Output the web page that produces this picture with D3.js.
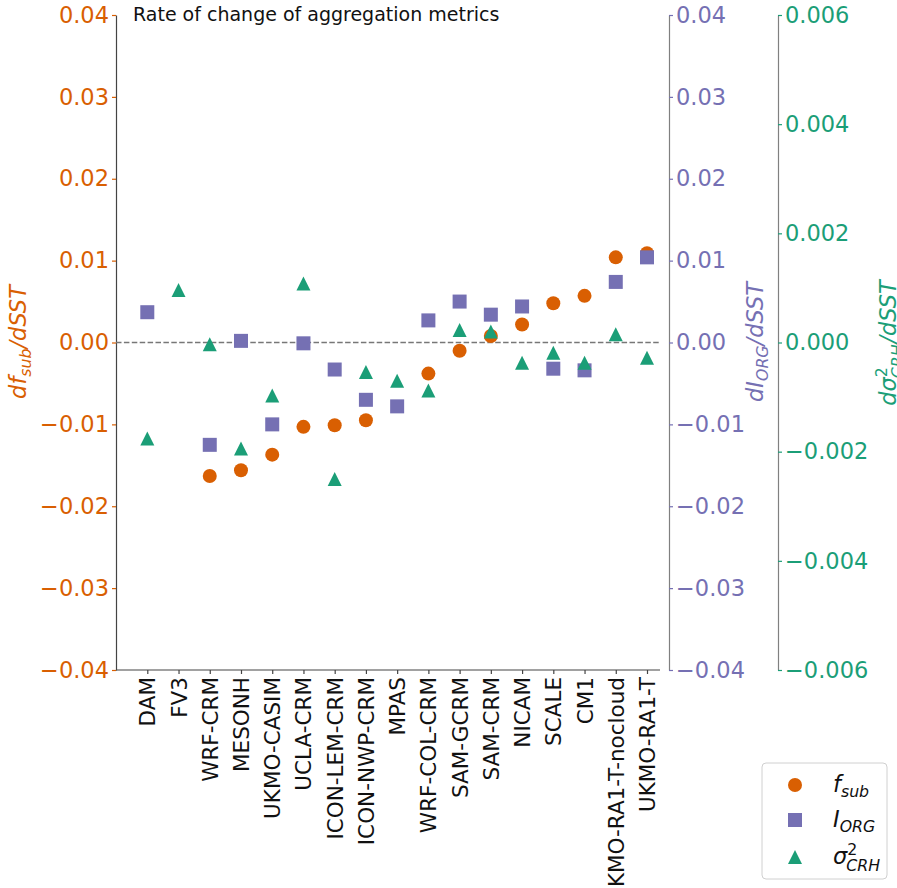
<!DOCTYPE html>
<html>
<head>
<meta charset="utf-8">
<script src="https://cdn.jsdelivr.net/npm/d3@7"></script>
<style>
  html, body { margin: 0; padding: 0; background: #fff; }
  svg { display: block; }
  text { font-family: 'DejaVu Sans', sans-serif; }
</style>
</head>
<body>
<div id="chart"></div>
<script>
(function () {
  'use strict';

  // ---- data ----
  const MODELS = [
    'DAM', 'FV3', 'WRF-CRM', 'MESONH', 'UKMO-CASIM', 'UCLA-CRM',
    'ICON-LEM-CRM', 'ICON-NWP-CRM', 'MPAS', 'WRF-COL-CRM', 'SAM-GCRM',
    'SAM-CRM', 'NICAM', 'SCALE', 'CM1', 'UKMO-RA1-T-nocloud', 'UKMO-RA1-T'
  ];
  // d f_sub / dSST  (left axis)
  const FSUB = [null, null, -0.0163, -0.0156, -0.0137, -0.0103, -0.0101, -0.0095,
    null, -0.0038, -0.0010, 0.0008, 0.0022, 0.0048, 0.0057, 0.0104, 0.0109];
  // d I_ORG / dSST  (first right axis)
  const IORG = [0.0037, null, -0.0125, 0.0002, -0.0100, -0.0001, -0.0033, -0.0070,
    -0.0078, 0.0027, 0.0050, 0.0034, 0.0044, -0.0032, -0.0034, 0.0074, 0.0104];
  // d sigma^2_CRH / dSST  (second right axis)
  const CRH = [-0.00176, 0.00096, -0.00003, -0.00194, -0.00097, 0.00108, -0.0025,
    -0.00054, -0.0007, -0.00088, 0.00023, 0.0002, -0.00037, -0.00019, -0.00037,
    0.00015, -0.00028];

  const TICKS_F = [-0.04, -0.03, -0.02, -0.01, 0, 0.01, 0.02, 0.03, 0.04];
  const TICKS_I = [-0.04, -0.03, -0.02, -0.01, 0, 0.01, 0.02, 0.03, 0.04];
  const TICKS_C = [-0.006, -0.004, -0.002, 0, 0.002, 0.004, 0.006];

  const ORANGE = '#d95f02';
  const PURPLE = '#7570b3';
  const GREEN  = '#1b9e77';

  const W = 897, H = 888;
  const FS = 22.5;

  const plot = { left: 116, right: 660, top: 15, bottom: 670 };

  const svg = d3.select('#chart').append('svg')
    .attr('width', W).attr('height', H);

  // category positions
  const x = d3.scaleLinear().domain([0, MODELS.length - 1]).range([147.3, 647]);
  const yF = d3.scaleLinear().domain([-0.04, 0.04]).range([plot.bottom, plot.top]);
  const yI = d3.scaleLinear().domain([-0.04, 0.04]).range([plot.bottom, plot.top]);
  const yC = d3.scaleLinear().domain([-0.006, 0.006]).range([plot.bottom, plot.top]);

  function styleAxis(g, spine, tickCol, textCol) {
    g.select('.domain').attr('stroke', spine).attr('stroke-width', 1.2);
    g.selectAll('.tick line').attr('stroke', tickCol).attr('stroke-width', 1.2);
    g.selectAll('.tick text')
      .attr('fill', textCol)
      .style('font-family', "'DejaVu Sans', sans-serif")
      .style('font-size', FS + 'px');
  }

  // left axis
  const gL = svg.append('g')
    .attr('transform', `translate(${plot.left},0)`)
    .call(d3.axisLeft(yF).tickValues(TICKS_F).tickFormat(d3.format('.2f'))
      .tickSize(4).tickSizeOuter(0).tickPadding(3));
  styleAxis(gL, '#444', ORANGE, ORANGE);

  // purple right axis (offset outward)
  const gI = svg.append('g')
    .attr('transform', `translate(669,0)`)
    .call(d3.axisRight(yI).tickValues(TICKS_I).tickFormat(d3.format('.2f'))
      .tickSize(4).tickSizeOuter(0).tickPadding(3));
  styleAxis(gI, '#808080', PURPLE, PURPLE);

  // green right axis
  const gC = svg.append('g')
    .attr('transform', `translate(778,0)`)
    .call(d3.axisRight(yC).tickValues(TICKS_C).tickFormat(d3.format('.3f'))
      .tickSize(4).tickSizeOuter(0).tickPadding(3));
  styleAxis(gC, '#808080', GREEN, GREEN);

  // bottom axis with rotated model names
  const gB = svg.append('g')
    .attr('transform', `translate(0,${plot.bottom})`)
    .call(d3.axisBottom(x).tickValues(d3.range(MODELS.length))
      .tickFormat(i => MODELS[i]).tickSize(4).tickSizeOuter(0));
  gB.select('.domain').attr('d', `M${plot.left},0H${plot.right}`)
    .attr('stroke', '#444').attr('stroke-width', 1.2);
  gB.selectAll('.tick line').attr('stroke', '#444').attr('stroke-width', 1.2);
  gB.selectAll('.tick text')
    .attr('fill', '#111')
    .style('font-family', "'DejaVu Sans', sans-serif")
    .style('font-size', '21.5px')
    .attr('transform', 'rotate(-90)')
    .attr('x', -7).attr('y', 0).attr('dy', '0.35em')
    .attr('text-anchor', 'end');

  // zero reference line
  svg.append('line')
    .attr('x1', plot.left).attr('x2', plot.right)
    .attr('y1', yF(0)).attr('y2', yF(0))
    .attr('stroke', '#777').attr('stroke-width', 1.5)
    .attr('stroke-dasharray', '5.5,2.4');

  // title
  svg.append('text')
    .attr('x', 133).attr('y', 21)
    .attr('fill', '#111')
    .style('font-size', '19px')
    .text('Rate of change of aggregation metrics');

  // ---- markers ----
  function triPath(s) {
    // upright triangle of width s, height s, centred on bbox
    const h = s / 2;
    return `M0,${-h}L${h},${h}L${-h},${h}Z`;
  }

  const idx = d3.range(MODELS.length);

  svg.append('g').selectAll('circle')
    .data(idx.filter(i => FSUB[i] != null))
    .join('circle')
    .attr('cx', i => x(i)).attr('cy', i => yF(FSUB[i]))
    .attr('r', 7).attr('fill', ORANGE);

  svg.append('g').selectAll('rect')
    .data(idx.filter(i => IORG[i] != null))
    .join('rect')
    .attr('x', i => x(i) - 7).attr('y', i => yI(IORG[i]) - 7)
    .attr('width', 14).attr('height', 14).attr('fill', PURPLE);

  svg.append('g').selectAll('path')
    .data(idx.filter(i => CRH[i] != null))
    .join('path')
    .attr('transform', i => `translate(${x(i)},${yC(CRH[i])})`)
    .attr('d', triPath(14)).attr('fill', GREEN);

  // ---- math-style labels (italic, with sub/superscripts) ----
  function mathText(g, parts, size, color) {
    let cx = 0;
    parts.forEach(p => {
      const t = g.append('text').attr('x', cx).attr('y', 0)
        .attr('fill', color).style('font-style', 'italic')
        .style('font-size', size + 'px').text(p.t);
      cx += t.node().getComputedTextLength();
      let adv = 0;
      if (p.sup) {
        const s = g.append('text').attr('x', cx).attr('y', -0.42 * size)
          .attr('fill', color).style('font-style', 'normal')
          .style('font-size', size * 0.7 + 'px').text(p.sup);
        adv = Math.max(adv, s.node().getComputedTextLength());
      }
      if (p.sub) {
        const s = g.append('text').attr('x', cx + (p.sup ? -1 : 0))
          .attr('y', (p.sup ? 0.32 : 0.22) * size)
          .attr('fill', color).style('font-style', 'italic')
          .style('font-size', size * 0.7 + 'px').text(p.sub);
        adv = Math.max(adv, s.node().getComputedTextLength());
      }
      cx += adv;
    });
    return cx;
  }

  function rotatedLabel(xb, yc, parts, color) {
    const outer = svg.append('g')
      .attr('transform', `translate(${xb},${yc}) rotate(-90)`);
    const inner = outer.append('g');
    const w = mathText(inner, parts, FS, color);
    inner.attr('transform', `translate(${-w / 2},0)`);
  }

  rotatedLabel(26, 342, [{ t: 'df', sub: 'sub' }, { t: '/dSST' }], ORANGE);
  rotatedLabel(763, 342, [{ t: 'dI', sub: 'ORG' }, { t: '/dSST' }], PURPLE);
  rotatedLabel(896, 343, [{ t: 'dσ', sup: '2', sub: 'CRH' }, { t: '/dSST' }], GREEN);

  // ---- legend ----
  const lg = svg.append('g');
  lg.append('rect')
    .attr('x', 762).attr('y', 763).attr('width', 125).attr('height', 116)
    .attr('rx', 4).attr('fill', '#fff').attr('fill-opacity', 0.8)
    .attr('stroke', '#d0d0d0').attr('stroke-width', 1);

  const LEGEND = [
    { y: 785, kind: 'circle', color: ORANGE, parts: [{ t: 'f', sub: 'sub' }] },
    { y: 820, kind: 'square', color: PURPLE, parts: [{ t: 'I', sub: 'ORG' }] },
    { y: 857, kind: 'tri',    color: GREEN,  parts: [{ t: 'σ', sup: '2', sub: 'CRH' }] }
  ];
  LEGEND.forEach(d => {
    if (d.kind === 'circle') {
      lg.append('circle').attr('cx', 795).attr('cy', d.y).attr('r', 7).attr('fill', d.color);
    } else if (d.kind === 'square') {
      lg.append('rect').attr('x', 788).attr('y', d.y - 7).attr('width', 14).attr('height', 14)
        .attr('fill', d.color);
    } else {
      lg.append('path').attr('transform', `translate(795,${d.y})`)
        .attr('d', triPath(14)).attr('fill', d.color);
    }
    const tg = lg.append('g').attr('transform', `translate(833,${d.y + 7})`);
    mathText(tg, d.parts, FS, '#111');
  });
})();
</script>
</body>
</html>
